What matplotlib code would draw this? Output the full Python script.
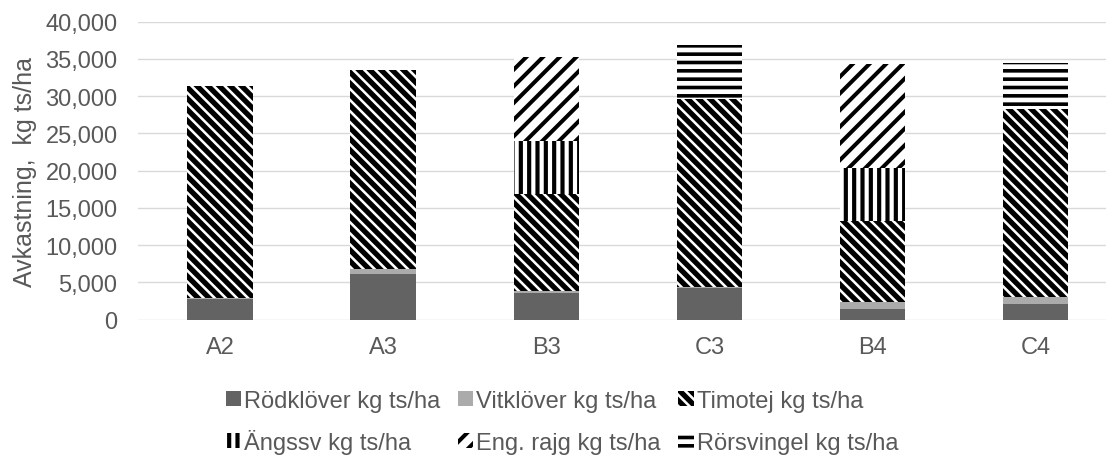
import matplotlib
matplotlib.use("Agg")
import matplotlib.pyplot as plt
from matplotlib.ticker import FuncFormatter
from matplotlib.transforms import Bbox
import numpy as np

categories = ["A2", "A3", "B3", "C3", "B4", "C4"]
rodklover = [2750, 6110, 3560, 4200, 1410, 2080]
vitklover = [150, 670, 310, 120, 900, 900]
timotej = [28500, 26700, 12990, 25300, 10960, 25290]
angssv = [0, 0, 7140, 0, 7030, 0]
eng_rajg = [0, 0, 11300, 0, 14000, 0]
rorsvingel = [0, 0, 0, 7200, 0, 6130]

series = [
    ("Rödklöver kg ts/ha", rodklover),
    ("Vitklöver kg ts/ha", vitklover),
    ("Timotej kg ts/ha", timotej),
    ("Ängssv kg ts/ha", angssv),
    ("Eng. rajg kg ts/ha", eng_rajg),
    ("Rörsvingel kg ts/ha", rorsvingel),
]

# colour, hatch, hatch linewidth
styles = [
    ("#636363", None, 1.0),
    ("#ababab", None, 1.0),
    ("white", "\\\\\\", 3.8),
    ("white", "||", 3.0),
    ("white", "//", 2.9),
    ("white", "--", 2.6),
]

text_color = "#595959"
plt.rcParams["font.family"] = ["Liberation Sans", "DejaVu Sans"]
plt.rcParams["font.size"] = 17

fig = plt.figure(figsize=(11.06, 4.56), dpi=100)
ax = fig.add_axes([0.1251, 0.2971, 0.8749, 0.6531])

x = np.arange(len(categories))
bottom = np.zeros(len(categories))
for (label, vals), (color, hatch, hlw) in zip(series, styles):
    vals = np.array(vals, dtype=float)
    with plt.rc_context({"hatch.linewidth": hlw}):
        bars = ax.bar(x, vals, 0.4, bottom=bottom, color=color,
                      edgecolor="black" if hatch else color, linewidth=0,
                      hatch=hatch, label=label, zorder=3)
        for b in bars:
            if hasattr(b, "set_hatch_linewidth"):
                b.set_hatch_linewidth(hlw)
    bottom += vals

ax.set_xlim(-0.5, 5.43)
ax.set_ylim(0, 40000)
ax.set_yticks(np.arange(0, 40001, 5000))
ax.yaxis.set_major_formatter(FuncFormatter(lambda v, p: f"{v:,.0f}"))
ax.set_xticks(x)
ax.set_xticklabels(categories)
ax.grid(axis="y", color="#d9d9d9", linewidth=1.0, zorder=0)
for s in ax.spines.values():
    s.set_visible(False)
ax.tick_params(axis="both", length=0, colors=text_color, labelsize=17)
ax.tick_params(axis="y", pad=15)
ax.tick_params(axis="x", pad=12)
ax.set_ylabel("Avkastning,  kg ts/ha", color=text_color, fontsize=18)
ax.yaxis.set_label_coords(-0.105, 0.5)

# legend fills column by column, so reorder to get row-wise entries
handles, labels = ax.get_legend_handles_labels()
order = [0, 3, 1, 4, 2, 5]
handles = [handles[i] for i in order]
labels = [labels[i] for i in order]
hlws = [styles[i][2] for i in order]
leg = fig.legend(handles, labels, loc="center", bbox_to_anchor=(0.508, 0.073),
                 ncol=3, frameon=False, fontsize=17, handlelength=0.65,
                 handleheight=0.65, handletextpad=0.13, columnspacing=0.74,
                 labelspacing=0.85, borderpad=0, borderaxespad=0)
for h, hlw in zip(leg.legend_handles, hlws):
    if hasattr(h, "set_hatch_linewidth"):
        h.set_hatch_linewidth(hlw)
for t in leg.get_texts():
    t.set_color(text_color)


# the "Ä" makes its label taller and pushes that row down; give every
# label the same ascent so both rows line up across the columns
def same_height(area):
    orig = area.get_bbox

    def get_bbox(renderer):
        bb = orig(renderer)
        fp = area._text.get_fontproperties()
        _, h, d = renderer.get_text_width_height_descent("Rlp", fp, ismath=False)
        return Bbox.from_bounds(bb.x0, bb.y0, bb.width, (h - d) - bb.y0)
    area.get_bbox = get_bbox


try:
    for col in leg._legend_handle_box.get_children():
        for row in col.get_children():
            same_height(row.get_children()[1])
except Exception:
    pass

fig.savefig("out.png", dpi=100)
